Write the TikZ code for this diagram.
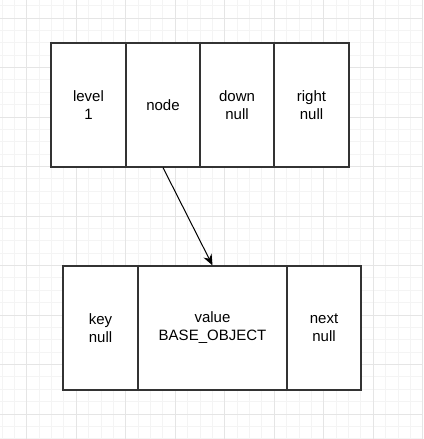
\documentclass[tikz,border=0pt]{standalone}
\usepackage{fontspec}
\setmainfont{Liberation Sans}
\usetikzlibrary{arrows.meta}
\begin{document}
\begin{tikzpicture}[x=1pt, y=-1pt, thick,
  cell/.style={draw=black!80, line width=1.2pt, fill=white, inner sep=0pt,
    minimum height=124pt, align=center, font=\fontsize{15}{18}\selectfont},
  minor/.style={draw=gray!9, line width=0.8pt},
  major/.style={draw=gray!20, line width=0.8pt}]

\useasboundingbox (0,0) rectangle (423,439);
\fill[white] (0,0) rectangle (423,439);

%grid
\foreach \k in {0,...,34}
  \draw[minor] (1.95+12.375*\k,0) -- (1.95+12.375*\k,439);
\foreach \k in {0,...,35}
  \draw[minor] (0,5.6+12.375*\k) -- (423,5.6+12.375*\k);
\foreach \k in {0,...,8}
  \draw[major] (26.7+49.5*\k,0) -- (26.7+49.5*\k,439);
\foreach \k in {0,...,8}
  \draw[major] (0,18+49.5*\k) -- (423,18+49.5*\k);

%index node
\node[cell, minimum width=75pt] (level) at (88.5,105) {level\\1};
\node[cell, minimum width=74pt] (node) at (163,105) {node};
\node[cell, minimum width=74pt] (down) at (237,105) {down\\null};
\node[cell, minimum width=75pt] (right) at (311.5,105) {right\\null};

%data node
\node[cell, minimum width=75pt] (key) at (100.5,328) {key\\null};
\node[cell, minimum width=149pt] (value) at (212.5,328) {value\\BASE\_OBJECT};
\node[cell, minimum width=74pt] (next) at (324,328) {next\\null};

\draw[-{Stealth[length=11pt, width=9pt]}, black, line width=1pt] (node.south) -- (value.north);

\end{tikzpicture}
\end{document}
